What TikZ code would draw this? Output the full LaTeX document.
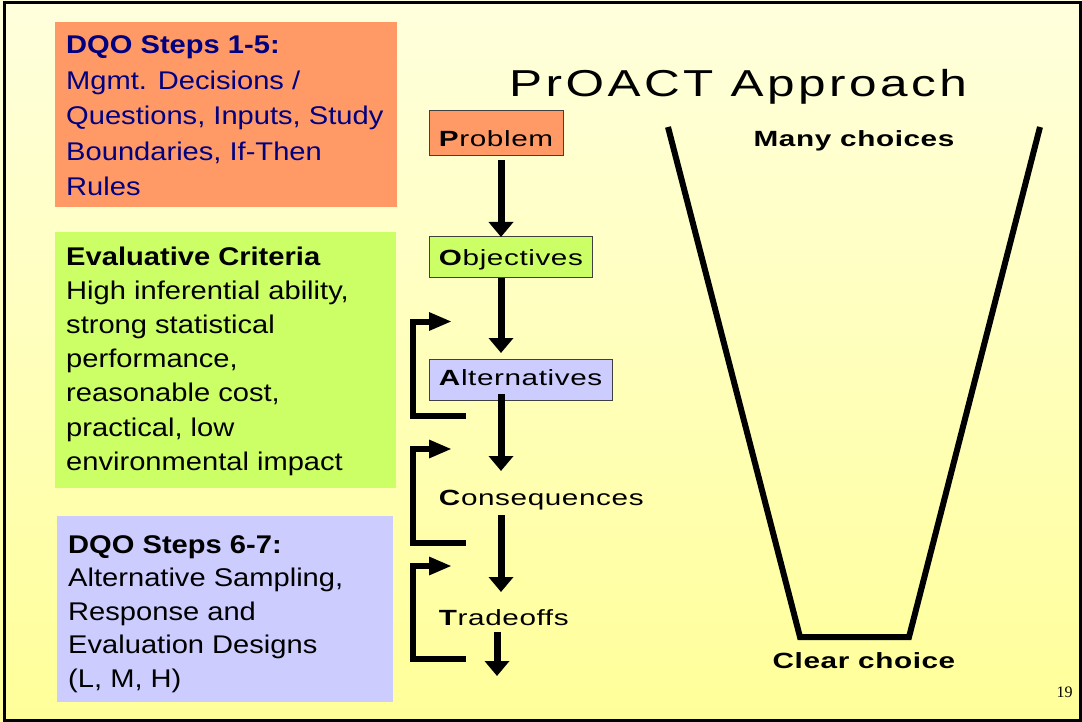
\documentclass[tikz,border=0pt]{standalone}
\usepackage{fontspec}
\setmainfont{Liberation Sans}
\newfontfamily\spacedfont[LetterSpace=2]{Liberation Sans}
\newfontfamily\titlefont[LetterSpace=7]{Liberation Sans}
\newfontfamily\folionumfont{Liberation Serif}
\usetikzlibrary{arrows.meta,calc}

\definecolor{bgtop}{HTML}{FFFFDD}
\definecolor{bgbot}{HTML}{FFFF99}
\definecolor{dqoorange}{HTML}{FF9966}
\definecolor{critgreen}{HTML}{CCFF66}
\definecolor{designlilac}{HTML}{CCCCFF}
\definecolor{navytext}{HTML}{000080}
\definecolor{boxedge}{HTML}{404040}

\begin{document}
\begin{tikzpicture}[x=1pt,y=-1pt,
  panel/.style={anchor=north west, inner sep=0pt, outer sep=0pt},
  % multi-line text: the base anchor sits on the last line
  paneltext/.style={anchor=base west, inner sep=0pt, align=left, xscale=1.137,
    font=\fontsize{25.6}{#1}\selectfont},
  stepbox/.style={anchor=base west, inner xsep=7.4pt, inner ysep=0pt, outer sep=0pt,
    xscale=1.35, font=\spacedfont\fontsize{22}{26}\selectfont,
    draw=boxedge, line width=1pt},
  funnellabel/.style={anchor=base, inner sep=0pt, xscale=1.35,
    font=\spacedfont\fontsize{22}{26}\selectfont\bfseries},
  down/.style={line width=7pt, -{Triangle[width=24pt,length=15pt]}},
  loopback/.style={line width=6pt, line join=miter, -{Triangle[width=17pt,length=23pt]}},
  funnelline/.style={line width=6pt, line join=miter}
]
\useasboundingbox (0,0) rectangle (1082,722);
\shade[top color=bgtop, bottom color=bgbot] (0,0) rectangle (1082,722);
\draw[line width=2.5pt] (4.3,2.5) rectangle (1080.5,720.3);

% left-hand explanation panels
\node[panel, fill=dqoorange, minimum width=342pt, minimum height=185pt] (dqoA) at (55,22) {};
\node[paneltext=35.5, text=navytext] (dqoAtext) at (66,196)
  {\textbf{DQO Steps 1-5:}\\Mgmt. Decisions /\\Questions, Inputs, Study\\Boundaries, If-Then\\Rules};

\node[panel, fill=critgreen, minimum width=341pt, minimum height=256pt] (crit) at (55,232) {};
\node[paneltext=34.2] (crittext) at (66,470.2)
  {\textbf{Evaluative Criteria}\\High inferential ability,\\strong statistical\\performance,\\reasonable cost,\\practical, low\\environmental impact};

\node[panel, fill=designlilac, minimum width=336pt, minimum height=186pt] (dqoB) at (57,516) {};
\node[paneltext=33.6] (dqoBtext) at (68,687.4)
  {\textbf{DQO Steps 6-7:}\\Alternative Sampling,\\Response and\\Evaluation Designs\\(L, M, H)};

% title
\node[anchor=base, inner sep=0pt, xscale=1.32, font=\titlefont\fontsize{37.5}{40}\selectfont]
  (title) at (738,96.7) {PrOACT Approach};

% PrOACT steps
\node[stepbox, fill=dqoorange, text height=36pt, text depth=9pt] (prob) at (429,147) {\textbf{P}roblem};
\node[stepbox, fill=critgreen, text height=28.7pt, text depth=12.3pt] (obj) at (429,265.7) {\textbf{O}bjectives};
\node[stepbox, fill=designlilac, text height=26.7pt, text depth=14.3pt] (alt) at (429,385.7) {\textbf{A}lternatives};
\node[stepbox, draw=none, text height=18pt, text depth=6pt] (cons) at (429,505) {\textbf{C}onsequences};
\node[stepbox, draw=none, text height=18pt, text depth=6pt] (trade) at (429,625) {\textbf{T}radeoffs};

\coordinate (spine) at (501,0);
\coordinate (outlet) at (497,676);
\draw[down] ($(prob.south -| spine)+(0,4)$) -- (obj.north -| spine);
\draw[down] (obj.south -| spine) -- ($(alt.north -| spine)+(0,-6)$);
\draw[down] ($(alt.south -| spine)+(0,-6)$) -- ($(cons.north -| spine)+(0,-16)$);
\draw[down] ($(cons.south -| spine)+(0,4)$) -- ($(trade.north -| spine)+(0,-15)$);
\draw[down] ($(trade.south -| outlet)+(0,1)$) -- (outlet);

% feedback loops
\coordinate (fbAin) at (466,416);   \coordinate (fbAout) at (452,321.5);
\coordinate (fbBin) at (466,543);   \coordinate (fbBout) at (452,449);
\coordinate (fbCin) at (466,659);   \coordinate (fbCout) at (452,566);
\draw[loopback] (fbAin) -- ++(-53,0) |- (fbAout);
\draw[loopback] (fbBin) -- ++(-53,0) |- (fbBout);
\draw[loopback] (fbCin) -- ++(-53,0) |- (fbCout);

% funnel of choices
\coordinate (fTL) at (668,127);
\coordinate (fBL) at (800,637);
\coordinate (fBR) at (909,637);
\coordinate (fTR) at (1040,127);
\draw[funnelline] (fTL) -- (fBL) -- (fBR) -- (fTR);
\node[funnellabel] (many) at (854,147) {Many choices};
\node[funnellabel] (clear) at (864,668) {Clear choice};

% slide number
\node[anchor=base, inner sep=0pt, font=\folionumfont\fontsize{16}{18}\selectfont] (folio) at (1064.5,697) {19};
\end{tikzpicture}
\end{document}
